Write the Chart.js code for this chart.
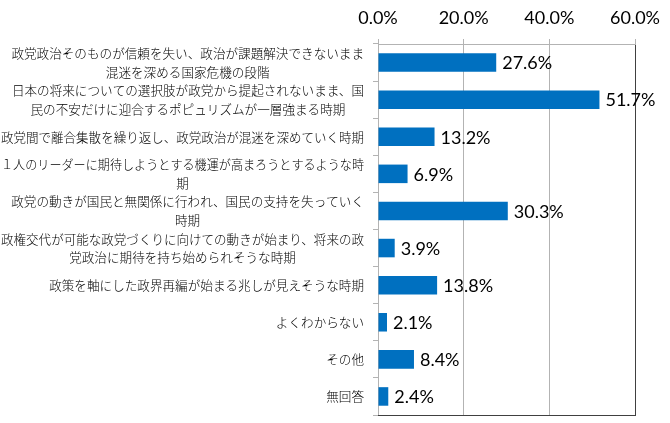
<!DOCTYPE html>
<html>
<head>
<meta charset="utf-8">
<script src="https://cdn.jsdelivr.net/npm/chart.js@4.4.1/dist/chart.umd.min.js"></script>
<style>
  html, body { margin: 0; padding: 0; background: #fff; }
</style>
</head>
<body>
<canvas id="grafico" width="670" height="423"></canvas>
<script>
// dados do gráfico
const categorias = [
  ["政党政治そのものが信頼を失い、政治が課題解決できないまま", "混迷を深める国家危機の段階"],
  ["日本の将来についての選択肢が政党から提起されないまま、国", "民の不安だけに迎合するポピュリズムが一層強まる時期"],
  ["政党間で離合集散を繰り返し、政党政治が混迷を深めていく時期"],
  ["１人のリーダーに期待しようとする機運が高まろうとするような時", "期"],
  ["政党の動きが国民と無関係に行われ、国民の支持を失っていく", "時期"],
  ["政権交代が可能な政党づくりに向けての動きが始まり、将来の政", "党政治に期待を持ち始められそうな時期"],
  ["政策を軸にした政界再編が始まる兆しが見えそうな時期"],
  ["よくわからない"],
  ["その他"],
  ["無回答"]
];
const valores = [27.6, 51.7, 13.2, 6.9, 30.3, 3.9, 13.8, 2.1, 8.4, 2.4];
const ticksX = [0, 20, 40, 60];

const azul = "#0070C0";
const cinza = "#B3B3B3";
const escuro = "#404040";
const fonteNum = "Lato, 'Liberation Sans', sans-serif";
const fonteJp = "'Noto Sans CJK JP', sans-serif";

// rótulos das categorias (centralizados entre si, alinhados à direita)
const rotulosCategorias = {
  id: "rotulosCategorias",
  afterDraw(chart) {
    const ctx = chart.ctx;
    const ys = chart.scales.y;
    const direita = ys.right - 14;
    const alturaLinha = 18.5;
    ctx.save();
    ctx.font = "300 12.6px " + fonteJp;
    ctx.fillStyle = "#000";
    ctx.textAlign = "center";
    ctx.textBaseline = "middle";
    categorias.forEach((linhas, i) => {
      const y = ys.getPixelForValue(i);
      let maxw = Math.max(...linhas.map(l => ctx.measureText(l).width));
      maxw = Math.min(maxw, direita - 1);
      const cx = direita - maxw / 2;
      const y0 = y - (linhas.length - 1) * alturaLinha / 2;
      linhas.forEach((l, k) => {
        ctx.fillText(l, cx, y0 + k * alturaLinha, maxw);
      });
    });
    ctx.restore();
  }
};

// valores ao lado das barras
const rotulosValores = {
  id: "rotulosValores",
  afterDatasetsDraw(chart) {
    const ctx = chart.ctx;
    const meta = chart.getDatasetMeta(0);
    ctx.save();
    ctx.font = "18px " + fonteNum;
    ctx.fillStyle = "#000";
    ctx.textAlign = "left";
    ctx.textBaseline = "middle";
    meta.data.forEach((bar, i) => {
      ctx.fillText(valores[i].toFixed(1) + "%", bar.x + 6, bar.y + 1);
    });
    ctx.restore();
  }
};

// borda inferior escura da área do gráfico
const bordaArea = {
  id: "bordaArea",
  afterDraw(chart) {
    const a = chart.chartArea;
    const ctx = chart.ctx;
    ctx.save();
    ctx.strokeStyle = escuro;
    ctx.lineWidth = 1;
    ctx.beginPath();
    ctx.moveTo(a.left, Math.round(a.bottom) + 0.5);
    ctx.lineTo(a.right + 1, Math.round(a.bottom) + 0.5);
    ctx.stroke();
    ctx.restore();
  }
};

new Chart(document.getElementById("grafico"), {
  type: "bar",
  data: {
    labels: categorias.map(c => c.join("")),
    datasets: [{
      data: valores,
      backgroundColor: azul,
      barPercentage: 0.5,
      categoryPercentage: 1
    }]
  },
  options: {
    indexAxis: "y",
    responsive: false,
    animation: false,
    layout: { padding: { left: 0, right: 32, top: 0, bottom: 8 } },
    plugins: {
      legend: { display: false },
      tooltip: { enabled: false }
    },
    scales: {
      x: {
        position: "top",
        min: 0,
        max: 60,
        afterBuildTicks: s => { s.ticks = ticksX.map(v => ({ value: v })); },
        afterFit: s => { s.height = 44; },
        ticks: {
          callback: v => v.toFixed(1) + "%",
          color: "#000",
          font: { family: fonteNum, size: 18 },
          padding: 10,
          maxRotation: 0
        },
        grid: {
          color: c => (c.tick && c.tick.value === 60 ? escuro : cinza),
          tickColor: cinza,
          tickLength: 5
        },
        border: { color: cinza }
      },
      y: {
        afterFit: s => { s.width = 378; },
        ticks: { display: false },
        grid: {
          drawOnChartArea: false,
          color: cinza,
          tickLength: 5
        },
        border: { color: cinza }
      }
    }
  },
  plugins: [rotulosCategorias, rotulosValores, bordaArea]
});
</script>
</body>
</html>
